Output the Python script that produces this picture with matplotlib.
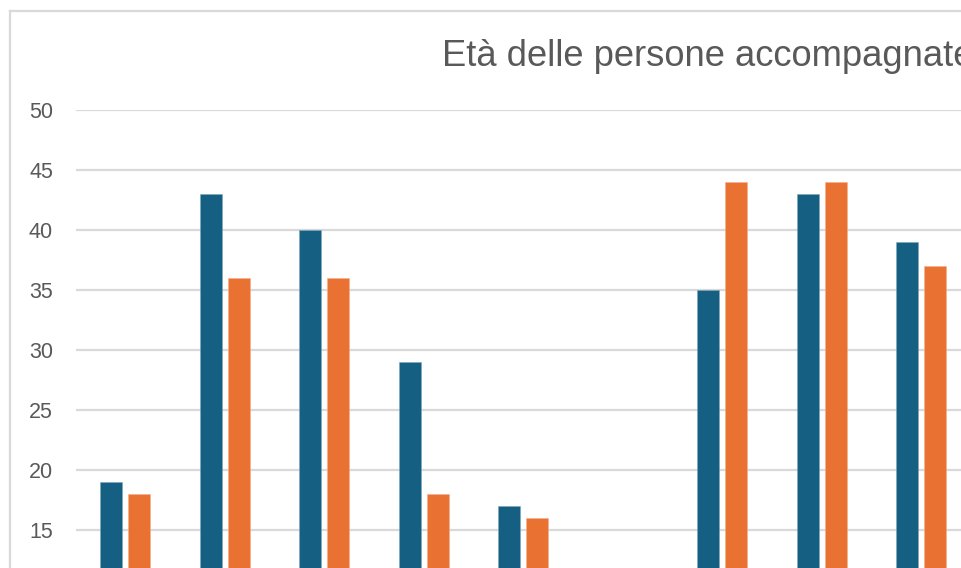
import numpy as np
import matplotlib.pyplot as plt
from matplotlib.patches import Rectangle
from matplotlib.lines import Line2D

TITLE = "Età delle persone accompagnate"

# categories (labels fall below the visible crop)
categories = ["1", "2", "3", "4", "5", "6", "7", "8", "9"]
serie_a = [19, 43, 40, 29, 17, np.nan, 35, 43, 39]
serie_b = [18, 36, 36, 18, 16, np.nan, 44, 44, 37]
y_ticks = [15, 20, 25, 30, 35, 40, 45, 50]

COL_A = '#156082'
COL_B = '#E97132'
GREY = '#595959'
GRID = '#D9D9D9'

W, H = 961, 568
fig = plt.figure(figsize=(W / 100, H / 100), dpi=100)
plt.rcParams['font.family'] = ['Liberation Sans', 'DejaVu Sans']

# plot area: left edge at px 76, 50-line at px 110, 12 px per unit
ax = fig.add_axes([76 / W, 0, (W - 76) / W, (H - 110) / H])
ax.set_ylim(50 - (H - 110) / 12, 50)
ax.set_xlim((76 - 125) / 99.5, (W - 125) / 99.5)

x = np.arange(len(categories))
bw = 22 / 99.5
off = 14 / 99.5
ax.bar(x - off, serie_a, bw, color=COL_A, edgecolor='#7FA6BA', linewidth=0.4, zorder=3)
ax.bar(x + off, serie_b, bw, color=COL_B, edgecolor='#F4B08C', linewidth=0.4, zorder=3)

ax.set_yticks(y_ticks)
ax.set_yticklabels([str(v) for v in y_ticks], fontsize=15.5, color=GREY)
ax.tick_params(axis='y', length=0, pad=16.5)
ax.set_xticks([])
ax.yaxis.grid(True, color=GRID, linewidth=1.6)
ax.set_axisbelow(True)
for s in ax.spines.values():
    s.set_visible(False)
ax.patch.set_alpha(0)

# chart border (top and left visible)
fig.add_artist(Line2D([10 / W, 10 / W], [0, 1 - 10.5 / H], color=GRID, linewidth=1.6))
fig.add_artist(Line2D([10 / W, 1], [1 - 10.5 / H, 1 - 10.5 / H], color=GRID, linewidth=1.6))

fig.text(442 / W, 1 - 66.5 / H, TITLE, fontsize=26.2, color=GREY,
         ha='left', va='baseline')

fig.savefig('out.png', dpi=100)
